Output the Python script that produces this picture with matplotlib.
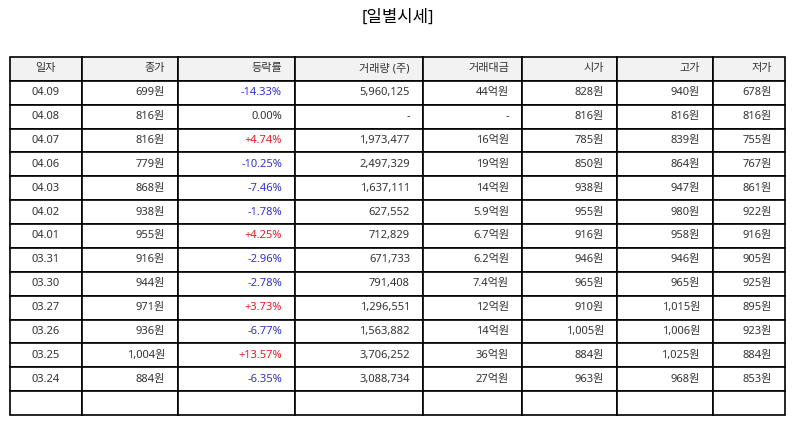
import matplotlib
matplotlib.use('Agg')
import matplotlib.pyplot as plt

plt.rcParams['font.family'] = ['Noto Sans', 'Noto Sans CJK KR', 'DejaVu Sans']

title = '[일별시세]'
columns = ['일자', '종가', '등락률', '거래량 (주)', '거래대금', '시가', '고가', '저가']

dates = ['04.09', '04.08', '04.07', '04.06', '04.03', '04.02', '04.01',
         '03.31', '03.30', '03.27', '03.26', '03.25', '03.24']
close = ['699원', '816원', '816원', '779원', '868원', '938원', '955원',
         '916원', '944원', '971원', '936원', '1,004원', '884원']
change = ['-14.33%', '0.00%', '+4.74%', '-10.25%', '-7.46%', '-1.78%', '+4.25%',
          '-2.96%', '-2.78%', '+3.73%', '-6.77%', '+13.57%', '-6.35%']
volume = ['5,960,125', '-', '1,973,477', '2,497,329', '1,637,111', '627,552', '712,829',
          '671,733', '791,408', '1,296,551', '1,563,882', '3,706,252', '3,088,734']
amount = ['44억원', '-', '16억원', '19억원', '14억원', '5.9억원', '6.7억원',
          '6.2억원', '7.4억원', '12억원', '14억원', '36억원', '27억원']
open_ = ['828원', '816원', '785원', '850원', '938원', '955원', '916원',
         '946원', '965원', '910원', '1,005원', '884원', '963원']
high = ['940원', '816원', '839원', '864원', '947원', '980원', '958원',
        '946원', '965원', '1,015원', '1,006원', '1,025원', '968원']
low = ['678원', '816원', '755원', '767원', '861원', '922원', '916원',
       '905원', '925원', '895원', '923원', '884원', '853원']

col_px = [72, 96, 117, 128, 99, 95, 96, 72]
W, H = 795, 425

rows = [list(r) for r in zip(dates, close, change, volume, amount, open_, high, low)]
rows.append([''] * len(columns))  # empty trailing row

fig = plt.figure(figsize=(W / 100, H / 100), dpi=100)
ax = fig.add_axes([0, 0, 1, 1])
ax.axis('off')

fig.text(0.5, 1 - 18 / H, title, ha='center', va='center', fontsize=12)

total = sum(col_px)
tab = ax.table(cellText=rows, colLabels=columns,
               colWidths=[c / total for c in col_px],
               bbox=[10 / W, 10 / H, total / W, 358 / H])
tab.auto_set_font_size(False)
tab.set_fontsize(8)

for (r, c), cell in tab.get_celld().items():
    cell.set_edgecolor('black')
    cell.set_linewidth(1.2)
    txt = cell.get_text()
    txt.set_color('#333333')
    if c == 0:
        cell._loc = 'center'
        txt.set_horizontalalignment('center')
    else:
        cell._loc = 'right'
        txt.set_horizontalalignment('right')
        cell.PAD = 13 / col_px[c]
    if r == 0:
        cell.set_facecolor('#f2f2f2')
    else:
        cell.set_facecolor('white')
        if c == 2 and r <= len(change):
            v = change[r - 1]
            if v.startswith('-'):
                txt.set_color('#3333cc')
            elif v.startswith('+'):
                txt.set_color('#e0202a')

fig.savefig('out.png', dpi=100)
